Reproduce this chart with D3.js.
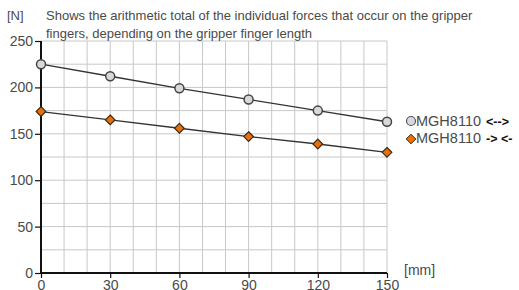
<!DOCTYPE html>
<html><head><meta charset="utf-8">
<script src="https://cdn.jsdelivr.net/npm/d3@7"></script>
<style>body{margin:0;background:#fff;font-family:"Liberation Sans",Arial,sans-serif}</style>
</head><body><svg id="c" width="519" height="290"></svg>
<script>
const lengths = [0, 30, 60, 90, 120, 150];
const seriesOpen = [225, 212, 199, 187, 175, 163];
const seriesClose = [174, 165, 156, 147, 139, 130];
const xTicks = [0, 30, 60, 90, 120, 150];
const yTicks = [0, 50, 100, 150, 200, 250];
const legendLabels = ["MGH8110", "MGH8110"];
const legendArrows = ["<-->", "-> <-"];

const svg = d3.select("#c");
const x = d3.scaleLinear().domain([0, 150]).range([41, 387]);
const y = d3.scaleLinear().domain([0, 250]).range([273, 41]);
const grid = "#c8c8c8";
const txt = "#4a4a4a";
const ff = '"Liberation Sans",Arial,sans-serif';

// grid
svg.append("g").selectAll("line").data(d3.range(10, 151, 10)).join("line")
  .attr("x1", d => x(d)).attr("x2", d => x(d)).attr("y1", y(0)).attr("y2", y(250))
  .attr("stroke", grid).attr("stroke-width", 1);
svg.append("g").selectAll("line").data(d3.range(25, 251, 25)).join("line")
  .attr("x1", x(0)).attr("x2", x(150)).attr("y1", d => y(d)).attr("y2", d => y(d))
  .attr("stroke", grid).attr("stroke-width", 1);

// axes
const xa = svg.append("g").attr("transform", `translate(0,${y(0)})`)
  .call(d3.axisBottom(x).tickValues(xTicks).tickSize(5).tickPadding(2));
const ya = svg.append("g").attr("transform", `translate(${x(0)},0)`)
  .call(d3.axisLeft(y).tickValues(yTicks).tickSize(6).tickPadding(2));
[xa, ya].forEach(a => {
  a.select(".domain").attr("stroke", "#111").attr("stroke-width", 2);
  a.selectAll(".tick line").attr("stroke", "#111").attr("stroke-width", 1.2);
  a.selectAll(".tick text").attr("fill", txt).attr("font-size", 14).attr("font-family", ff);
});
xa.select(".domain").attr("d", `M${x(0)},0H${x(150)}`);
ya.select(".domain").attr("d", `M0,${y(0)}V${y(250)}`);

// lines
const line = d3.line().x((d, i) => x(lengths[i])).y(d => y(d));
[seriesOpen, seriesClose].forEach(s => {
  svg.append("path").datum(s).attr("d", line).attr("fill", "none")
    .attr("stroke", "#333").attr("stroke-width", 1.3);
});

// markers
svg.append("g").selectAll("circle").data(seriesOpen).join("circle")
  .attr("cx", (d, i) => x(lengths[i])).attr("cy", d => y(d)).attr("r", 4.5)
  .attr("fill", "#d8d8dc").attr("stroke", "#444").attr("stroke-width", 1.5);
const diamond = d3.symbol().type(d3.symbolDiamond2).size(60);
svg.append("g").selectAll("path").data(seriesClose).join("path")
  .attr("transform", (d, i) => `translate(${x(lengths[i])},${y(d)})`)
  .attr("d", diamond).attr("fill", "#e8700a").attr("stroke", "#3a2a1a").attr("stroke-width", 1.2);

// title
const t = svg.append("g").attr("fill", txt).attr("font-size", 13);
t.append("text").attr("x", 7).attr("y", 20).text("[N]");
t.append("text").attr("x", 46).attr("y", 20).text("Shows the arithmetic total of the individual forces that occur on the gripper");
t.append("text").attr("x", 46).attr("y", 38).text("fingers, depending on the gripper finger length");

// x unit
svg.append("text").attr("x", 404).attr("y", 275).attr("fill", txt).attr("font-size", 14).text("[mm]");

// legend
const lg = svg.append("g");
lg.append("circle").attr("cx", 411).attr("cy", 121).attr("r", 4.5)
  .attr("fill", "#d8d8e4").attr("stroke", "#555").attr("stroke-width", 1.2);
lg.append("path").attr("transform", "translate(411,139)")
  .attr("d", d3.symbol().type(d3.symbolDiamond2).size(60)).attr("fill", "#e8700a").attr("stroke", "#3a2a1a").attr("stroke-width", 1);
legendLabels.forEach((l, i) => {
  const tx = lg.append("text").attr("x", 416).attr("y", 126 + i * 17).attr("font-size", 14.5).attr("fill", txt);
  tx.append("tspan").text(l);
  tx.append("tspan").attr("dx", 5).attr("font-size", 12.5).attr("font-weight", "bold").attr("fill", "#111").text(legendArrows[i]);
});
</script></body></html>
